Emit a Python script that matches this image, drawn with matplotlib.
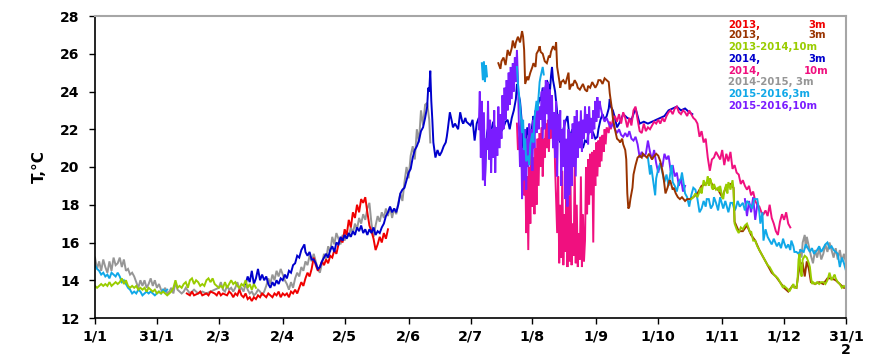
import numpy as np
import matplotlib
matplotlib.use("Agg")
import matplotlib.pyplot as plt

# Water temperature records: (day of year, temperature in °C)

# 2013, 3 m (red)
y2013_3m_a = [(44.5, 13.3), (46, 13.2), (47, 13.4), (48, 13.2), (50, 13.3), (51, 13.4), (52, 13.2), (54, 13.3),
              (55, 13.2), (56, 13.4), (58, 13.3), (59, 13.2), (60, 13.4), (61, 13.2), (62, 13.3), (64, 13.2),
              (65, 13.4), (66, 13.3), (67, 13.1), (68, 13.3), (69, 13.2), (70, 13.5), (71, 13.2), (72, 13.1),
              (73, 13.3), (74, 13.0), (75, 13.1), (76, 12.9), (77, 13.1), (78, 13.0), (79, 13.2), (80, 13.1),
              (81, 13.3), (82, 13.2), (83, 13.1), (84, 13.3), (85, 13.2), (86, 13.1), (87, 13.3), (88, 13.2),
              (89, 13.4), (90, 13.1), (91, 13.3), (92, 13.2), (93, 13.3), (94, 13.1), (95, 13.4), (96, 13.3),
              (97, 13.5), (98, 13.3), (99, 13.6), (100, 13.9), (101, 13.7), (102, 14.1), (103, 14.4), (104, 14.2),
              (105, 14.6), (106, 15.2), (107, 14.8), (108, 14.5), (109, 14.7), (110, 15.0), (111, 14.8), (112, 15.1),
              (113, 14.9), (114, 15.3), (115, 15.2), (116, 15.6), (117, 15.4), (118, 15.9), (119, 16.2), (120, 16.0),
              (121, 16.7), (122, 16.4), (123, 17.2), (124, 16.8), (125, 17.6), (126, 17.3), (127, 18.0), (128, 17.6),
              (129, 18.3), (130, 18.1), (131, 18.4), (132, 17.6), (133, 16.9), (134, 16.6), (135, 16.2), (136, 15.6),
              (137, 15.9), (138, 16.3), (139, 16.0), (140, 16.5), (141, 16.2), (142, 16.7)]

# 2013, 3 m (brown)
y2013_3m_b = [(195.5, 25.5), (196.5, 25.2), (197, 25.6), (198, 25.8), (199, 25.4), (200, 26.2), (201, 25.9),
              (202, 26.3), (202.5, 26.7), (203.5, 26.3), (204, 26.6), (205, 26.9), (206, 26.6), (207, 27.2),
              (207.5, 26.9), (208, 26.2), (208.5, 24.4), (209.5, 24.8), (210, 24.6), (211, 25.0), (212, 25.3),
              (212.5, 25.5), (213.5, 25.3), (214, 26.0), (215, 26.2), (215.5, 26.4), (216, 26.1), (217, 26.0),
              (218, 25.6), (219, 25.5), (220, 25.9), (220.5, 25.8), (221, 26.1), (222, 26.4), (223, 26.2),
              (223.5, 26.6), (224, 25.3), (225, 24.6), (225.5, 24.2), (226, 24.5), (227, 24.6), (228, 24.4),
              (229, 24.8), (229.5, 25.0), (230, 24.1), (231, 24.4), (231.5, 24.3), (232.5, 24.6), (233.5, 24.4),
              (234, 24.2), (235, 24.1), (236, 24.3), (236.5, 24.4), (237.5, 24.1), (238.5, 24.0), (239, 24.3),
              (240, 24.2), (241, 24.5), (241.5, 24.4), (242.5, 24.2), (243.5, 24.4), (244, 24.6), (245, 24.6),
              (246, 24.4), (247, 24.7), (248, 24.6), (249, 24.5), (249.5, 23.9), (250.5, 23.1), (251, 22.6),
              (252, 22.0), (253, 21.5), (254, 21.4), (254.5, 21.3), (255.5, 21.5), (256, 21.2), (257, 20.9),
              (257.5, 20.4), (258, 18.6), (258.5, 17.8), (259, 17.9), (259.5, 18.3), (260.5, 18.9), (261, 19.6),
              (262, 20.1), (263, 20.5), (264, 20.6), (265, 20.5), (265.5, 20.7), (266.5, 20.6), (267.5, 20.5),
              (268.5, 20.7), (269, 20.6), (270, 20.4), (270.5, 20.5), (272, 20.7), (273, 20.6), (274, 20.3),
              (275, 19.8), (275.5, 19.5), (276.5, 18.6), (277.5, 18.9), (278.5, 19.3), (279, 19.2), (280, 18.8),
              (280.5, 18.9), (281.5, 18.6), (282.5, 18.4), (283.5, 18.3), (284.5, 18.4), (286, 18.2), (287, 18.3),
              (288.5, 18.3), (290, 18.4), (292, 18.6), (294, 19.0), (296, 19.1), (298, 19.3), (300, 18.9),
              (302, 18.8), (304, 18.4), (306, 19.0), (308, 19.1), (309.5, 18.9), (310, 17.1), (312, 16.6),
              (314, 16.6), (316, 16.9), (318, 16.4), (320, 16.1), (322, 15.6), (324, 15.2), (326, 14.8),
              (328, 14.4), (330, 14.2), (332, 13.9), (334, 13.6), (336, 13.4), (338, 13.7), (340, 13.6),
              (341, 14.4), (342, 14.9), (343, 14.9), (344, 14.2), (345, 15.0), (346, 14.6), (347, 13.9),
              (349, 13.8), (351, 13.9), (353, 13.8), (355, 14.1), (357, 14.1), (359, 14.0), (361, 13.8),
              (363, 13.6), (364, 13.6)]

# 2013-2014, 10 m (yellow-green): winter part and autumn part
y2013_14_10m_winter = [(0, 13.7), (1, 13.6), (2, 13.7), (3, 13.8), (4, 13.7), (5, 13.8), (6, 13.7), (7, 13.9),
                       (8, 13.7), (9, 13.8), (10, 13.9), (11, 13.8), (12, 13.9), (13, 14.1), (14, 13.8), (15, 14.0),
                       (16, 13.7), (17, 13.6), (18, 13.7), (19, 13.6), (20, 13.7), (21, 13.5), (22, 13.6), (23, 13.5),
                       (24, 13.6), (25, 13.4), (26, 13.6), (27, 13.5), (28, 13.4), (29, 13.5), (30, 13.3), (31, 13.4),
                       (32, 13.3), (33, 13.4), (34, 13.3), (35, 13.2), (36, 13.3), (37, 13.4), (38, 13.6), (39, 14.0),
                       (40, 13.6), (41, 13.7), (42, 13.6), (43, 13.8), (44, 13.9), (45, 13.6), (46, 14.0), (47, 14.1),
                       (48, 13.8), (49, 14.0), (50, 13.9), (51, 13.7), (52, 13.8), (53, 13.7), (54, 14.0), (55, 14.1),
                       (56, 13.9), (57, 14.1), (58, 13.8), (59, 13.7), (60, 13.6), (61, 13.7), (62, 13.6), (63, 13.9),
                       (64, 13.6), (65, 13.8), (66, 14.0), (67, 13.8), (68, 13.9), (69, 13.7), (70, 13.6), (71, 13.8),
                       (72, 13.7), (73, 14.0), (74, 13.6), (75, 13.8), (76, 13.5), (77, 13.8), (78, 13.6)]
y2013_14_10m_autumn = [(289, 18.3), (290, 18.4), (291, 18.6), (292, 18.4), (293, 18.7), (293.5, 18.9), (294, 18.6),
                       (295, 19.3), (296, 19.0), (296.5, 19.2), (297, 19.5), (297.5, 19.0), (298, 19.4), (298.5, 19.3),
                       (299, 18.9), (299.5, 18.8), (300, 19.1), (301, 18.8), (302, 18.9), (302.5, 18.7), (303, 19.0),
                       (304, 18.4), (304.5, 18.3), (305, 18.7), (306, 19.1), (306.5, 18.6), (307, 19.2), (308, 18.8),
                       (309, 19.3), (309.5, 18.8), (310, 17.0), (311, 16.7), (312, 16.5), (313, 16.8), (314, 16.7),
                       (315, 16.9), (316, 17.0), (317, 16.7), (317.5, 16.5), (318, 16.6), (319, 16.1), (320, 16.1),
                       (321, 15.8), (322, 15.6), (322.5, 15.5), (323, 15.4), (324, 15.2), (325, 15.0), (325.5, 14.9),
                       (326, 14.8), (327, 14.7), (328, 14.5), (329, 14.3), (330, 14.2), (331, 14.1), (332, 13.9),
                       (333, 13.7), (333.5, 13.6), (334, 13.7), (335, 13.6), (336, 13.5), (336.5, 13.4), (337, 13.5),
                       (338, 13.7), (338.5, 13.8), (339, 13.6), (340, 13.6), (340.5, 14.0), (341, 15.1), (341.5, 15.4),
                       (342, 14.5), (342.5, 14.2), (343, 15.1), (344, 15.3), (345, 15.2), (346, 14.9), (346.5, 14.7),
                       (347, 14.2), (347.5, 13.8), (348, 13.9), (349, 13.8), (350, 13.9), (351, 13.8), (352, 13.9),
                       (353, 13.9), (354, 13.8), (355, 14.0), (356, 14.4), (356.5, 14.2), (357, 14.0), (358, 14.2),
                       (358.5, 14.3), (359, 14.1), (359.5, 14.0), (360, 13.9), (361, 13.8), (362, 13.6), (363, 13.7),
                       (364, 13.6)]

# 2014, 3 m (blue)
y2014_3m = [(73, 13.8), (74, 14.2), (75, 13.9), (76, 14.5), (77, 13.8), (78, 14.1), (79, 14.6), (80, 14.0),
            (81, 14.3), (82, 14.0), (83, 14.2), (84, 13.8), (85, 13.6), (86, 13.9), (87, 13.7), (88, 14.0),
            (89, 13.8), (90, 14.1), (91, 14.0), (92, 14.3), (93, 14.1), (94, 14.5), (95, 14.4), (96, 14.8),
            (97, 14.9), (98, 15.3), (99, 15.2), (100, 15.6), (101, 15.8), (101.5, 15.9), (102, 15.5), (103, 15.3),
            (104, 15.5), (105, 15.1), (106, 15.1), (107, 14.9), (108, 14.6), (109, 14.7), (110, 15.0), (111, 15.2),
            (112, 15.4), (113, 15.2), (114, 15.6), (115, 15.8), (116, 15.5), (117, 16.0), (118, 15.9), (119, 16.3),
            (120, 16.1), (121, 16.4), (122, 16.2), (123, 16.5), (124, 16.3), (125, 16.6), (126, 16.4), (127, 16.8),
            (128, 16.6), (129, 16.9), (130, 16.5), (131, 16.7), (132, 16.4), (133, 16.7), (134, 16.5), (135, 16.8),
            (136, 16.4), (137, 16.6), (138, 16.5), (139, 16.8), (140, 17.0), (141, 17.4), (142, 17.6), (143, 17.9),
            (144, 17.6), (145, 17.8), (146, 17.6), (147, 18.0), (148, 18.6), (149, 18.8), (150, 18.9), (151, 19.3),
            (152, 19.7), (153, 19.9), (154, 20.5), (155, 20.9), (156, 21.1), (157, 21.4), (158, 21.9), (159, 22.1),
            (160, 22.6), (161, 23.2), (161.5, 24.2), (162, 24.0), (162.5, 25.1), (163, 23.5), (163.5, 22.5),
            (164, 21.3), (165, 20.5), (166, 20.9), (167, 20.6), (168, 20.8), (169, 21.1), (170, 21.3), (170.5, 21.6),
            (171, 22.0), (172, 22.9), (173, 22.4), (173.5, 22.1), (174.5, 22.3), (176, 22.0), (177, 22.9),
            (178, 22.4), (178.5, 22.3), (179.5, 22.6), (180, 22.4), (181, 22.3), (182, 22.2), (183, 22.5),
            (184, 21.4), (185, 22.3), (186, 22.6), (186.5, 22.5), (187, 22.2), (188, 22.0), (188.5, 20.5),
            (189, 19.3), (189.5, 21.0), (190, 21.8), (191, 22.3), (192, 21.9), (193, 22.4), (194, 22.0), (195, 21.8),
            (196, 22.2), (197, 21.9), (198, 22.1), (199, 22.4), (200, 22.5), (201, 22.0), (202, 22.6), (203, 23.0),
            (204, 23.6), (204.5, 24.4), (205, 24.0), (206, 23.5), (207, 22.2), (207.5, 21.0), (208.5, 20.0),
            (209, 21.2), (209.5, 22.1), (210.5, 21.6), (211, 21.5), (212, 22.3), (212.5, 22.7), (213, 22.5),
            (214, 23.0), (215, 23.4), (215.5, 23.7), (216, 23.5), (217, 24.2), (218, 24.0), (219, 24.6),
            (220, 24.3), (220.5, 24.0), (221, 24.8), (221.5, 25.3), (222, 24.6), (223, 24.0), (224, 22.9),
            (225, 21.9), (225.5, 21.3), (226, 21.8), (227, 22.0), (228, 22.4), (229, 22.7), (230, 21.5),
            (231, 21.9), (231.5, 22.0), (232.5, 21.2), (233.5, 21.0), (234, 21.5), (235, 21.8), (236, 21.2),
            (236.5, 21.0), (237.5, 21.4), (238.5, 21.3), (239, 21.7), (240, 22.1), (241, 21.9), (241.5, 21.8),
            (242.5, 21.5), (243.5, 21.6), (244, 22.0), (245, 22.5), (246, 22.8), (247, 22.5), (248, 22.7),
            (249, 23.1), (249.5, 23.6), (250, 23.2), (251, 23.0), (252, 22.6), (253, 22.1), (254, 22.3),
            (254.5, 22.4), (256, 22.8), (258, 22.6), (260, 22.5), (262, 23.1), (264, 22.3), (266, 22.4),
            (268, 22.3), (270, 22.4), (272, 22.5), (274, 22.6), (276, 22.7), (278, 23.0), (280, 23.1),
            (282, 23.2), (284, 23.0), (286, 23.1), (288, 22.9), (289.5, 22.8)]

# 2014, 10 m (pink)
y2014_10m = [(204.5, 22.3), (205, 20.9), (206, 21.8), (207, 19.7), (207.5, 21.0), (208, 18.5), (208.5, 20.5),
             (209, 16.5), (209.5, 19.5), (210, 15.6), (210.5, 20.0), (211, 17.0), (211.5, 20.9), (212, 17.9),
             (212.5, 20.5), (213, 17.5), (213.5, 21.0), (214, 18.0), (214.5, 21.5), (215, 19.0), (215.5, 21.8),
             (216, 20.0), (216.5, 22.1), (217, 19.5), (217.5, 21.5), (218, 20.5), (218.5, 22.3), (219, 21.0),
             (219.5, 22.5), (220, 20.8), (220.5, 22.6), (221, 21.5), (221.5, 22.7), (222, 21.8), (222.5, 22.5),
             (223, 20.0), (223.5, 18.3), (224, 16.5), (224.5, 19.5), (225, 14.9), (225.5, 18.0), (226, 15.2),
             (226.5, 19.8), (227, 14.8), (227.5, 17.5), (228, 15.5), (228.5, 20.0), (229, 14.7), (229.5, 18.5),
             (230, 15.0), (230.5, 19.0), (231, 14.8), (231.5, 17.0), (232, 15.3), (232.5, 20.2), (233, 14.9),
             (233.5, 18.0), (234, 14.7), (234.5, 16.5), (235, 15.1), (235.5, 19.5), (236, 14.7), (236.5, 17.5),
             (237, 15.0), (237.5, 16.1), (238, 20.0), (238.5, 17.5), (239, 20.4), (239.5, 18.0), (240, 20.7),
             (240.5, 18.5), (241, 20.8), (241.5, 16.0), (242, 20.9), (242.5, 19.0), (243, 21.3), (243.5, 19.5),
             (244, 21.4), (244.5, 20.0), (245, 21.6), (245.5, 20.3), (246, 21.7), (246.5, 20.8), (247, 22.0),
             (247.5, 21.2), (248, 22.1), (249, 21.8), (249.5, 22.4), (250, 22.0), (251, 22.5), (252, 22.7),
             (253, 22.4), (254, 22.8), (255, 22.3), (256, 22.9), (257, 22.6), (258, 22.1), (259, 22.6), (260, 22.2),
             (261, 23.0), (262, 23.2), (263, 22.5), (264, 21.9), (265, 21.8), (266, 22.3), (267, 21.9), (268, 22.1),
             (269, 22.0), (270, 22.2), (271, 22.4), (272, 22.3), (273, 22.5), (274, 22.3), (275, 22.6), (276, 22.4),
             (277, 22.7), (278, 22.9), (279, 23.0), (280, 22.8), (281, 23.1), (282, 23.2), (283, 22.9), (284, 22.8),
             (285, 23.0), (286, 22.9), (287, 22.7), (288, 23.0), (289, 22.8), (290, 22.6), (291, 22.5), (292, 22.3),
             (293, 21.6), (294, 21.9), (295, 21.3), (296, 21.5), (297, 20.5), (298, 19.8), (299, 20.4), (300, 20.5),
             (301, 20.8), (302, 20.6), (303, 20.4), (304, 20.9), (305, 20.1), (306, 20.7), (307, 20.3), (308, 20.8),
             (309, 19.9), (310, 20.1), (311, 19.7), (312, 19.6), (313, 19.1), (314, 19.3), (315, 19.0), (316, 18.8),
             (317, 19.0), (318, 18.5), (319, 18.7), (320, 18.2), (321, 18.0), (322, 17.9), (323, 17.6), (324, 17.5),
             (325, 17.7), (326, 17.4), (327, 18.0), (328, 17.3), (329, 17.0), (330, 16.6), (331, 16.4), (332, 17.1),
             (333, 17.5), (334, 17.2), (335, 17.6), (336, 17.0), (337, 16.8)]

# 2014-2015, 3 m (grey): spring part and December part
y2014_15_3m_spring = [(0, 15.2), (1, 14.6), (2, 15.0), (3, 14.5), (4, 15.1), (5, 14.7), (6, 14.4), (7, 15.0),
                      (8, 14.5), (9, 15.2), (10, 14.8), (11, 14.9), (12, 15.2), (13, 14.7), (14, 15.1), (15, 14.5),
                      (16, 14.6), (17, 14.3), (18, 14.4), (19, 14.2), (20, 13.9), (21, 13.6), (22, 14.0), (23, 13.7),
                      (24, 14.0), (25, 13.6), (26, 13.8), (27, 14.1), (28, 13.7), (29, 14.0), (30, 13.6), (31, 13.8),
                      (32, 13.5), (33, 13.4), (34, 13.6), (35, 13.3), (36, 13.4), (37, 13.6), (38, 13.3), (39, 13.9),
                      (40, 13.5), (41, 13.4), (42, 13.3), (43, 13.4), (44, 13.6), (46, 13.3), (48, 13.5), (50, 13.3),
                      (52, 13.4), (54, 13.3), (56, 13.4), (58, 13.5), (60, 13.6), (61, 13.9), (62, 13.5), (63, 13.4),
                      (64, 13.7), (65, 13.5), (66, 13.6), (67, 13.4), (68, 13.6), (69, 13.9), (70, 13.5), (71, 13.6),
                      (72, 13.4), (73, 13.8), (74, 13.5), (75, 13.3), (76, 13.4), (77, 13.2), (78, 13.3), (79, 13.5),
                      (80, 13.4), (81, 13.2), (82, 13.4), (83, 13.7), (84, 14.1), (85, 13.8), (86, 14.3), (87, 14.0),
                      (88, 14.5), (89, 14.2), (90, 14.6), (91, 14.3), (92, 14.0), (93, 13.8), (94, 13.5), (95, 13.9),
                      (96, 13.6), (97, 14.1), (98, 14.4), (99, 14.2), (100, 14.7), (101, 14.5), (102, 15.0),
                      (103, 14.8), (104, 15.3), (105, 15.0), (106, 15.4), (107, 15.0), (108, 14.6), (109, 14.4),
                      (110, 14.9), (111, 15.4), (112, 15.1), (113, 15.8), (114, 15.5), (115, 16.3), (116, 15.9),
                      (117, 16.5), (118, 16.2), (119, 15.9), (120, 16.4), (121, 16.1), (122, 16.6), (123, 16.3),
                      (124, 16.8), (125, 16.5), (126, 17.0), (127, 16.7), (128, 17.3), (129, 17.0), (130, 17.5),
                      (131, 17.2), (132, 17.8), (133, 18.1), (134, 17.0), (135, 16.3), (136, 16.9), (137, 17.4),
                      (138, 17.1), (139, 17.6), (140, 17.3), (141, 17.8), (142, 17.4), (143, 17.9), (144, 17.3),
                      (145, 17.8), (146, 17.5), (147, 18.1), (148, 18.6), (149, 18.2), (150, 19.2), (151, 20.0),
                      (152, 19.4), (153, 20.6), (154, 21.1), (155, 20.4), (156, 22.0), (157, 21.3), (158, 23.0),
                      (159, 22.2), (160, 23.3), (161, 23.4), (162, 22.5), (162.5, 21.3)]
y2014_15_3m_dec = [(341.7, 15.6), (342.5, 15.2), (343, 16.0), (344, 16.4), (344.5, 15.7), (345, 16.3), (346, 15.8),
                   (347, 15.3), (348, 14.9), (349, 15.6), (350, 15.2), (351, 15.7), (352, 15.1), (353, 15.4),
                   (354, 15.9), (355, 15.5), (356, 16.0), (357, 15.6), (358, 15.2), (359, 15.7), (360, 15.1),
                   (361, 15.6), (362, 15.0), (363, 15.4), (364, 14.9)]

# 2015-2016, 3 m (light blue): four logged stretches
y2015_16_3m_jan = [(0, 14.8), (1, 14.6), (2, 14.5), (3, 14.3), (4, 14.4), (5, 14.2), (6, 14.3), (7, 14.1), (8, 14.4),
                   (9, 14.3), (10, 14.2), (11, 14.4), (12, 14.2), (13, 13.9), (14, 14.0), (15, 13.8), (16, 13.6),
                   (17, 13.5), (18, 13.3), (19, 13.4), (20, 13.3), (21, 13.5), (22, 13.4), (23, 13.2), (24, 13.3),
                   (25, 13.4), (26, 13.3), (27, 13.4), (28, 13.3), (29, 13.2), (30, 13.3), (31, 13.4), (32, 13.3),
                   (33, 13.5), (34, 13.4), (35, 13.5)]
y2015_16_3m_jul = [(187.5, 25.5), (188, 24.6), (188.5, 25.6), (189, 24.5), (189.5, 25.4), (190, 24.8)]
y2015_16_3m_aug = [(204.5, 25.3), (205, 24.4), (206, 23.3), (207, 21.8), (207.5, 22.5), (208, 20.9), (208.5, 21.5),
                   (209, 20.3), (210, 20.6), (210.5, 20.1), (211, 21.2), (212, 21.8), (212.5, 21.3), (213, 22.6),
                   (214, 23.5), (214.5, 23.0), (215.5, 24.5), (216, 24.8), (217, 25.3), (217.5, 24.9)]
y2015_16_3m_autumn = [(268, 20.5), (269, 19.6), (269.5, 20.1), (270.5, 19.3), (271.5, 18.5), (272, 19.4), (273, 19.9),
                      (274, 20.2), (275, 19.7), (276, 19.2), (277, 19.6), (278, 19.0), (279, 19.8), (279.5, 20.1),
                      (280, 19.2), (281, 19.0), (282, 18.7), (283, 19.2), (284, 19.4), (284.5, 19.7), (285.5, 19.0),
                      (286, 18.6), (287, 18.4), (288, 17.9), (289, 18.5), (290, 18.9), (291, 18.8), (292, 18.3),
                      (293, 17.6), (294, 17.8), (295, 18.2), (296, 17.9), (296.5, 18.3), (297.5, 18.3), (298.5, 17.8),
                      (299.5, 18.0), (300, 18.4), (301, 18.1), (302, 17.7), (303, 18.4), (304, 18.0), (304.5, 17.8),
                      (305.5, 18.2), (306, 18.0), (307, 17.6), (308, 18.1), (309, 18.1), (310, 17.7), (310.5, 17.8),
                      (311.5, 18.2), (312.5, 17.9), (314, 18.1), (315, 17.7), (316, 18.2), (317.5, 18.0),
                      (318.5, 17.8), (319.5, 18.3), (321, 18.3), (322, 17.6), (322.5, 17.0), (323.5, 17.6),
                      (324, 16.1), (325, 16.7), (326, 16.3), (327, 16.1), (328, 15.9), (329, 16.2), (330.5, 15.8),
                      (331.5, 16.0), (332.5, 15.7), (333.5, 16.2), (334, 16.0), (335, 15.7), (336, 15.9), (337, 15.6),
                      (337.5, 16.1), (338.5, 15.8), (339, 15.5), (340, 15.5), (341, 15.4), (342, 15.6), (343.5, 15.5),
                      (344.5, 15.9), (345, 15.8), (346.5, 15.5), (347.5, 15.7), (348.5, 15.4), (350, 15.6),
                      (351, 15.8), (352, 15.5), (353, 15.7), (354, 15.9), (355, 16.0), (356, 15.7), (357, 15.8),
                      (358, 15.6), (359, 15.5), (360, 15.4), (361, 14.7), (362, 15.2), (363, 14.9), (364, 14.5)]

# 2015-2016, 10 m (violet)
y2015_16_10m = [(186, 22.0), (186.5, 24.0), (187, 20.5), (187.5, 23.5), (188, 19.3), (188.5, 22.9), (189, 19.0),
                (189.5, 21.5), (190, 20.9), (190.5, 23.5), (191, 20.4), (191.5, 22.5), (192, 19.7), (192.5, 22.0),
                (193, 20.5), (193.5, 23.0), (194, 19.7), (194.5, 22.1), (195, 20.6), (195.5, 23.2), (196, 21.0),
                (196.5, 22.8), (197, 21.5), (197.5, 23.8), (198, 22.0), (198.5, 24.2), (199, 22.5), (199.5, 24.6),
                (200, 23.0), (200.5, 25.0), (201, 23.3), (201.5, 25.3), (202, 23.6), (202.5, 25.5), (203, 24.0),
                (203.5, 25.8), (204, 24.5), (204.5, 26.2), (205, 24.6), (205.5, 22.0), (206, 20.0), (206.5, 22.5),
                (207, 18.3), (207.5, 21.0), (208, 19.3), (208.5, 22.0), (209, 18.8), (209.5, 21.5), (210, 20.0),
                (210.5, 22.3), (211, 20.7), (211.5, 22.0), (212, 19.8), (212.5, 22.5), (213, 21.0), (213.5, 23.0),
                (214, 21.8), (214.5, 23.5), (215, 22.0), (215.5, 23.2), (216, 22.5), (216.5, 24.0), (217, 21.5),
                (217.5, 24.2), (218, 22.0), (218.5, 24.6), (219, 22.8), (219.5, 24.5), (220, 21.5), (220.5, 24.1),
                (221, 22.0), (221.5, 23.8), (222, 21.0), (222.5, 22.9), (223, 20.5), (223.5, 23.5), (224, 19.5),
                (224.5, 22.8), (225, 21.4), (225.5, 23.0), (226, 19.0), (226.5, 22.0), (227, 20.0), (227.5, 22.5),
                (228, 18.3), (228.5, 21.5), (229, 17.9), (229.5, 22.0), (230, 18.5), (230.5, 21.8), (231, 19.0),
                (231.5, 22.3), (232, 20.0), (232.5, 22.7), (233, 19.5), (233.5, 23.0), (234, 20.5), (234.5, 22.4),
                (235, 21.0), (235.5, 23.0), (236, 20.8), (236.5, 22.5), (237, 21.5), (237.5, 23.2), (238, 21.8),
                (238.5, 22.8), (239, 21.2), (239.5, 23.2), (240, 21.8), (240.5, 22.6), (241, 21.5), (241.5, 23.0),
                (242, 22.0), (242.5, 23.5), (243, 22.4), (243.5, 23.7), (244, 22.6), (244.5, 23.5), (245, 23.2),
                (246, 22.7), (247, 22.4), (248, 22.6), (249, 22.3), (250, 22.1), (251, 22.3), (252, 22.0),
                (253, 21.8), (254, 22.0), (255, 21.7), (256, 21.6), (257, 21.8), (258, 21.6), (259, 21.9),
                (260, 21.5), (261, 21.4), (262, 21.6), (263, 21.2), (264, 20.5), (265, 20.8), (266, 20.6),
                (267, 20.7), (268, 21.4), (269, 20.8), (270, 20.4), (271, 20.9), (272, 20.2), (273, 19.7),
                (274, 20.2), (275, 20.0), (276, 20.7), (277, 20.4), (278, 20.6), (279, 19.8), (280, 20.1),
                (281, 19.5), (282, 19.7), (283, 19.0), (284, 19.4), (285, 18.7), (286, 19.0)]
y2015_16_10m_nov = [(315, 18.3), (316, 17.4), (317, 18.2), (318, 17.6), (319, 18.4), (320, 17.2), (321, 18.0)]

month_ticks = [0, 30, 60, 91, 121, 152, 182, 212, 243, 273, 304, 334, 364]
month_labels = ["1/1", "31/1", "2/3", "2/4", "2/5", "2/6", "2/7", "1/8", "1/9", "1/10", "1/11", "1/12", "31/1\n2"]

legend_rows = [("2013,", "3m", "#f00000"),
               ("2013,", "3m", "#993300"),
               ("2013-2014,10m", "", "#99cc00"),
               ("2014,", "3m", "#0000cc"),
               ("2014,", "10m", "#f0107f"),
               ("2014-2015, 3m", "", "#969696"),
               ("2015-2016,3m", "", "#10a8e8"),
               ("2015-2016,10m", "", "#7a1cff")]

# drawing order, bottom to top: (segments, colour)
layers = [
    ([y2014_15_3m_spring, y2014_15_3m_dec], "#969696"),
    ([y2013_3m_a], "#f00000"),
    ([y2014_3m], "#0000cc"),
    ([y2014_10m], "#f0107f"),
    ([y2015_16_10m, y2015_16_10m_nov], "#7a1cff"),
    ([y2015_16_3m_jan, y2015_16_3m_jul, y2015_16_3m_aug, y2015_16_3m_autumn], "#10a8e8"),
    ([y2013_3m_b], "#993300"),
    ([y2013_14_10m_winter, y2013_14_10m_autumn], "#99cc00"),
]

W, H = 869, 357
fig = plt.figure(figsize=(W / 100, H / 100), dpi=100)
fig.patch.set_facecolor("white")
x0, x1, ytop, ybot = 95, 846, 16, 318
ax = fig.add_axes([x0 / W, (H - ybot) / H, (x1 - x0) / W, (ybot - ytop) / H])

for segments, colour in layers:
    for seg in segments:
        arr = np.array(seg)
        ax.plot(arr[:, 0], arr[:, 1], color=colour, lw=1.4, solid_joinstyle="miter")

ax.set_xlim(0, 364)
ax.set_ylim(12, 28)
ax.set_yticks(range(12, 29, 2))
ax.set_xticks(month_ticks)
ax.set_xticklabels(month_labels, fontsize=10.3, fontweight="bold", linespacing=0.92)
ax.set_yticklabels([str(v) for v in range(12, 29, 2)], fontsize=10, fontweight="bold")
ax.tick_params(axis="both", direction="out", length=4, width=1, color="black")
ax.tick_params(axis="x", pad=4.5)
ax.tick_params(axis="y", pad=7)

for side in ("left", "bottom"):
    ax.spines[side].set_color("black")
    ax.spines[side].set_linewidth(1.2)
for side in ("top", "right"):
    ax.spines[side].set_color("#a6a6a6")
    ax.spines[side].set_linewidth(1.5)

fig.text(39 / W, 1 - 167 / H, "T,°C", rotation=90, ha="center", va="center",
         fontsize=11, fontweight="bold")

row_y = [24.7, 35.5, 47.5, 59.5, 70.8, 82.2, 94.2, 105.8]
right_x = {"3m": 808, "10m": 804}
for (left, right, colour), yc in zip(legend_rows, row_y):
    fig.text(728 / W, 1 - yc / H, left, color=colour, fontsize=7.3, fontweight="bold", va="center", ha="left")
    if right:
        fig.text(right_x[right] / W, 1 - yc / H, right, color=colour, fontsize=7.3, fontweight="bold",
                 va="center", ha="left")

fig.savefig("out.png", dpi=100, facecolor="white")
